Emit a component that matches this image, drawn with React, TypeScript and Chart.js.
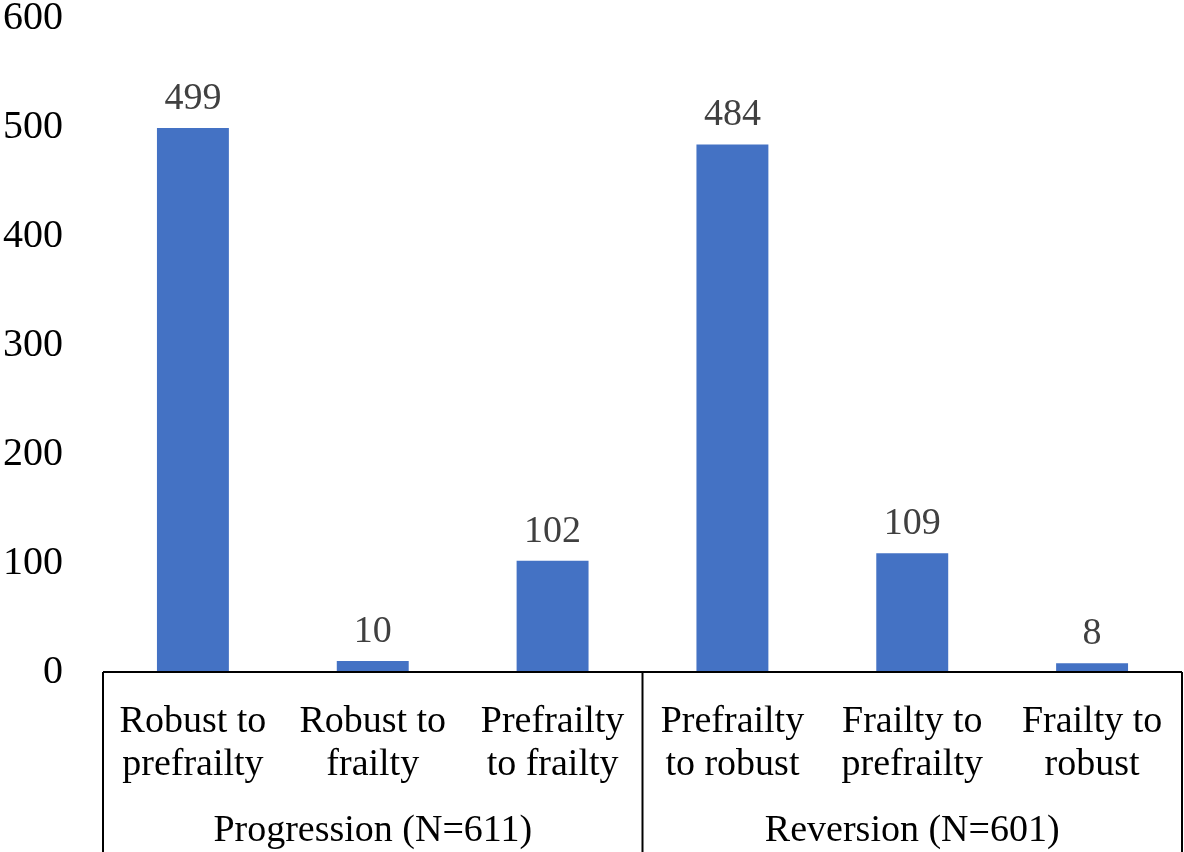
import React, { useEffect, useRef } from "react";
import { Chart, registerables } from "chart.js";

Chart.register(...registerables);

const categories: string[][] = [
  ["Robust to", "prefrailty"],
  ["Robust to", "frailty"],
  ["Prefrailty", "to frailty"],
  ["Prefrailty", "to robust"],
  ["Frailty to", "prefrailty"],
  ["Frailty to", "robust"],
];
const values: number[] = [499, 10, 102, 484, 109, 8];
const groups: string[] = ["Progression (N=611)", "Reversion (N=601)"];
const groupSizes: number[] = [3, 3];

const FONT = "'Liberation Serif', 'Times New Roman', serif";

const groupPlugin = {
  id: "groupPlugin",
  afterDraw(chart: any) {
    const { ctx, chartArea } = chart;
    const bottom = chart.height;
    ctx.save();
    ctx.strokeStyle = "#000";
    ctx.lineWidth = 2;
    ctx.beginPath();
    ctx.moveTo(chartArea.left, chartArea.bottom);
    ctx.lineTo(chartArea.right, chartArea.bottom);
    ctx.stroke();
    const step = (chartArea.right - chartArea.left) / categories.length;
    let idx = 0;
    const edges: number[] = [chartArea.left];
    groupSizes.forEach((n) => {
      idx += n;
      edges.push(chartArea.left + step * idx);
    });
    edges.forEach((ex) => {
      ctx.beginPath();
      ctx.moveTo(ex, chartArea.bottom);
      ctx.lineTo(ex, bottom);
      ctx.stroke();
    });
    ctx.fillStyle = "#000";
    ctx.font = `38px ${FONT}`;
    ctx.textAlign = "center";
    ctx.textBaseline = "middle";
    groups.forEach((g, i) => {
      const cx = (edges[i] + edges[i + 1]) / 2;
      ctx.fillText(g, cx, 831);
    });
    const meta = chart.getDatasetMeta(0);
    ctx.fillStyle = "#404040";
    ctx.textBaseline = "alphabetic";
    meta.data.forEach((bar: any, i: number) => {
      ctx.fillText(String(values[i]), bar.x, bar.y - 19);
    });
    ctx.restore();
  },
};

export default function App() {
  const ref = useRef<HTMLCanvasElement>(null);
  useEffect(() => {
    document.body.style.margin = "0";
    const chart = new Chart(ref.current!, {
      type: "bar",
      data: {
        labels: categories,
        datasets: [
          {
            data: values,
            backgroundColor: "#4472C4",
            categoryPercentage: 1,
            barPercentage: 0.4,
          },
        ],
      },
      options: {
        responsive: false,
        animation: false,
        devicePixelRatio: 1,
        layout: { padding: { top: 18, right: 2, left: 0, bottom: 0 } },
        plugins: { legend: { display: false }, tooltip: { enabled: false } },
        scales: {
          x: {
            grid: { display: false, drawTicks: false },
            border: { display: false },
            ticks: {
              color: "#000",
              font: { family: FONT, size: 38, lineHeight: 1.13 },
              padding: 29,
              maxRotation: 0,
              minRotation: 0,
              autoSkip: false,
            },
            afterFit: (s: any) => {
              s.height = 180;
              s.paddingLeft = 0;
              s.paddingRight = 0;
              s.paddingTop = 0;
              s.paddingBottom = 0;
            },
          },
          y: {
            min: 0,
            max: 600,
            grid: { display: false, drawTicks: false },
            border: { display: false },
            ticks: {
              stepSize: 100,
              color: "#000",
              font: { family: FONT, size: 40 },
              padding: 40,
            },
            afterFit: (s: any) => {
              s.width = 103;
              s.paddingTop = 0;
              s.paddingBottom = 0;
              s.paddingLeft = 0;
              s.paddingRight = 0;
            },
          },
        },
      },
      plugins: [groupPlugin],
    });
    return () => chart.destroy();
  }, []);
  return (
    <div style={{ width: 1184, height: 852 }}>
      <canvas ref={ref} width={1184} height={852} style={{ display: "block" }} />
    </div>
  );
}
